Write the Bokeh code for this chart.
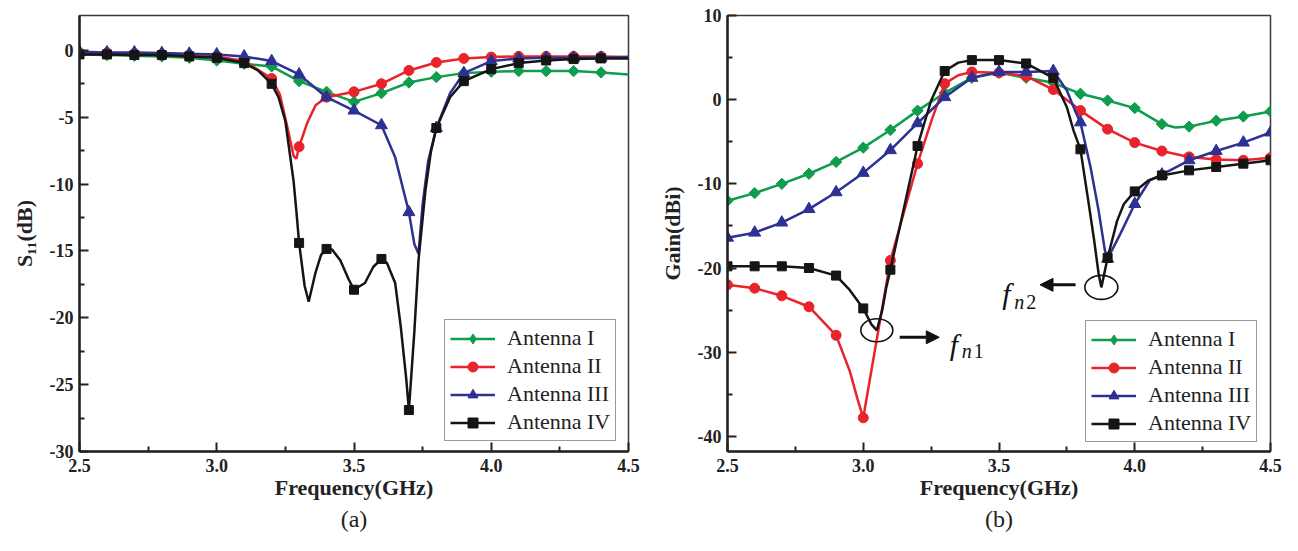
import numpy as np
from bokeh.plotting import figure
from bokeh.layouts import row
from bokeh.models import (Range1d, FixedTicker, PrintfTickFormatter, Legend, LegendItem,
                          Title, Label, Arrow, NormalHead)
from bokeh.embed import file_html
from bokeh.resources import INLINE

FONT = "Liberation Serif"
names = ["Antenna I", "Antenna II", "Antenna III", "Antenna IV"]
colors = ["#0E9C4D", "#E8232B", "#2E3192", "#151515"]

# ---------------- (a) S11 ----------------
freq_a = [2.5, 2.6, 2.7, 2.8, 2.9, 3.0, 3.1, 3.2, 3.3, 3.4,
          3.5, 3.6, 3.7, 3.8, 3.9, 4.0, 4.1, 4.2, 4.3, 4.4]
s11_I = [-0.3, -0.35, -0.4, -0.45, -0.55, -0.75, -1.0, -1.2, -2.3, -3.1,
         -3.85, -3.2, -2.4, -2.0, -1.7, -1.6, -1.55, -1.55, -1.55, -1.65]
s11_II = [-0.2, -0.2, -0.25, -0.3, -0.35, -0.45, -0.8, -2.1, -7.2, -3.5,
          -3.1, -2.5, -1.5, -0.9, -0.6, -0.5, -0.45, -0.45, -0.45, -0.45]
s11_III = [-0.1, -0.15, -0.15, -0.2, -0.25, -0.3, -0.45, -0.8, -1.8, -3.5,
           -4.5, -5.6, -12.1, -5.8, -1.7, -0.8, -0.6, -0.55, -0.55, -0.55]
s11_IV = [-0.3, -0.3, -0.35, -0.35, -0.45, -0.55, -0.95, -2.5, -14.4, -14.85,
          -17.9, -15.6, -26.9, -5.8, -2.3, -1.4, -0.95, -0.75, -0.65, -0.6]

# curve points (markers plus points read between them)
s11_I_cf = freq_a + [4.5]
s11_I_cv = s11_I + [-1.8]
s11_II_cf = [2.5, 2.6, 2.7, 2.8, 2.9, 3.0, 3.1, 3.2, 3.23, 3.26, 3.28, 3.29, 3.3, 3.33, 3.36,
             3.4, 3.5, 3.6, 3.7, 3.8, 3.9, 4.0, 4.1, 4.2, 4.3, 4.4, 4.5]
s11_II_cv = [-0.2, -0.2, -0.25, -0.3, -0.35, -0.45, -0.8, -2.1, -3.3, -6.0, -7.9, -8.1, -7.2, -5.4, -4.1,
             -3.5, -3.1, -2.5, -1.5, -0.9, -0.6, -0.5, -0.45, -0.45, -0.45, -0.45, -0.5]
s11_III_cf = [2.5, 2.6, 2.7, 2.8, 2.9, 3.0, 3.1, 3.2, 3.3, 3.4, 3.5, 3.6, 3.65, 3.7, 3.72, 3.735,
              3.75, 3.77, 3.8, 3.85, 3.9, 4.0, 4.1, 4.2, 4.3, 4.4, 4.5]
s11_III_cv = [-0.1, -0.15, -0.15, -0.2, -0.25, -0.3, -0.45, -0.8, -1.8, -3.5, -4.5, -5.6, -8.0, -12.1, -14.5, -15.2,
              -11.5, -8.3, -5.8, -3.2, -1.7, -0.8, -0.6, -0.55, -0.55, -0.55, -0.5]
s11_IV_cf = [2.5, 2.6, 2.7, 2.8, 2.9, 3.0, 3.1, 3.15, 3.2, 3.225, 3.25, 3.28, 3.29, 3.3, 3.32, 3.335,
             3.36, 3.38, 3.4, 3.42, 3.45, 3.48, 3.5, 3.54, 3.57, 3.6, 3.62, 3.65, 3.67, 3.69, 3.7,
             3.72, 3.735, 3.76, 3.78, 3.8, 3.85, 3.9, 4.0, 4.1, 4.2, 4.3, 4.4, 4.5]
s11_IV_cv = [-0.3, -0.3, -0.35, -0.35, -0.45, -0.55, -0.95, -1.5, -2.5, -3.5, -5.3, -9.8, -12.0, -14.4, -17.6, -18.8,
             -16.6, -15.3, -14.85, -14.9, -15.7, -17.1, -17.9, -17.4, -16.2, -15.6, -15.9, -17.4, -20.6, -24.5, -26.9,
             -21.0, -15.7, -10.5, -7.6, -5.8, -3.5, -2.3, -1.4, -0.95, -0.75, -0.65, -0.6, -0.6]

# ---------------- (b) Gain ----------------
freq_b = [2.5, 2.6, 2.7, 2.8, 2.9, 3.0, 3.1, 3.2, 3.3, 3.4, 3.5,
          3.6, 3.7, 3.8, 3.9, 4.0, 4.1, 4.2, 4.3, 4.4, 4.5]
gain_I = [-12.0, -11.1, -10.0, -8.8, -7.4, -5.7, -3.6, -1.3, 0.8, 2.6, 3.2,
          2.6, 2.0, 0.7, -0.1, -1.0, -2.9, -3.2, -2.5, -2.0, -1.4]
gain_II = [-22.0, -22.4, -23.3, -24.6, -28.0, -37.8, -19.1, -7.6, 1.9, 3.3, 3.2,
           2.8, 1.2, -1.3, -3.5, -5.1, -6.1, -6.8, -7.1, -7.2, -6.9]
gain_III = [-16.4, -15.8, -14.6, -13.0, -11.0, -8.7, -6.0, -2.8, 0.3, 2.6, 3.3,
            3.3, 3.4, -2.7, -18.9, -12.4, -8.9, -7.2, -6.1, -5.1, -3.9]
gain_IV = [-19.8, -19.8, -19.8, -20.0, -20.9, -24.8, -20.2, -5.5, 3.4, 4.7, 4.7,
           4.3, 2.6, -5.9, -18.8, -10.9, -9.0, -8.4, -8.0, -7.6, -7.2]

gain_I_cf = [2.5, 2.6, 2.7, 2.8, 2.9, 3.0, 3.1, 3.2, 3.3, 3.4, 3.5, 3.6, 3.7, 3.8, 3.9, 4.0, 4.1, 4.15,
             4.2, 4.3, 4.4, 4.5]
gain_I_cv = [-12.0, -11.1, -10.0, -8.8, -7.4, -5.7, -3.6, -1.3, 0.8, 2.6, 3.2, 2.6, 2.0, 0.7, -0.1, -1.0, -2.9, -3.3,
             -3.2, -2.5, -2.0, -1.4]
gain_II_cf = [2.5, 2.6, 2.7, 2.8, 2.9, 2.95, 2.98, 3.0, 3.1, 3.2, 3.25, 3.3, 3.35, 3.4, 3.5, 3.6, 3.7,
              3.8, 3.9, 4.0, 4.1, 4.2, 4.3, 4.4, 4.5]
gain_II_cv = [-22.0, -22.4, -23.3, -24.6, -28.0, -32.2, -35.7, -37.8, -19.1, -7.6, -2.6, 1.9, 2.9, 3.3, 3.2, 2.8, 1.2,
              -1.3, -3.5, -5.1, -6.1, -6.8, -7.1, -7.2, -6.9]
gain_III_cf = [2.5, 2.6, 2.7, 2.8, 2.9, 3.0, 3.1, 3.2, 3.3, 3.4, 3.5, 3.6, 3.7, 3.75, 3.78, 3.8, 3.837,
               3.867, 3.89, 3.9, 3.946, 4.0, 4.055, 4.1, 4.2, 4.3, 4.4, 4.5]
gain_III_cv = [-16.4, -15.8, -14.6, -13.0, -11.0, -8.7, -6.0, -2.8, 0.3, 2.6, 3.3, 3.3, 3.4, 1.1, -1.3, -2.7, -8.0,
               -13.2, -17.9, -18.9, -16.0, -12.4, -9.6, -8.9, -7.2, -6.1, -5.1, -3.9]
gain_IV_cf = [2.5, 2.6, 2.7, 2.8, 2.9, 2.95, 3.0, 3.03, 3.05, 3.07, 3.085, 3.1, 3.2, 3.25, 3.3, 3.35,
              3.4, 3.5, 3.6, 3.7, 3.75, 3.775, 3.8, 3.825, 3.85, 3.867, 3.877, 3.9, 3.935, 3.96, 4.0,
              4.05, 4.1, 4.2, 4.3, 4.4, 4.5]
gain_IV_cv = [-19.8, -19.8, -19.8, -20.0, -20.9, -22.6, -24.8, -26.7, -27.4, -25.0, -22.3, -20.2, -5.5, -0.1, 3.4, 4.4,
              4.7, 4.7, 4.3, 2.6, -0.9, -3.7, -5.9, -11.2, -16.6, -20.7, -22.3, -18.8, -14.4, -12.4, -10.9,
              -9.6, -9.0, -8.4, -8.0, -7.6, -7.2]

markers = [dict(marker="square", angle=np.pi / 4, size=8),
           dict(marker="circle", size=10),
           dict(marker="triangle", size=12),
           dict(marker="square", size=9)]
legend_markers = ["diamond", "circle", "triangle", "square"]


def style(p, yticks, yminor, ylabel):
    p.xgrid.visible = False
    p.ygrid.visible = False
    p.outline_line_color = "#3a3a3a"
    p.outline_line_width = 1.5
    p.background_fill_color = "white"
    p.border_fill_color = "white"
    p.xaxis.ticker = FixedTicker(ticks=[2.5, 3.0, 3.5, 4.0, 4.5], minor_ticks=[2.75, 3.25, 3.75, 4.25])
    p.xaxis.formatter = PrintfTickFormatter(format="%.1f")
    p.yaxis.ticker = FixedTicker(ticks=yticks, minor_ticks=yminor)
    p.yaxis.formatter = PrintfTickFormatter(format="%d")
    for ax in (p.xaxis[0], p.yaxis[0]):
        ax.axis_line_width = 2.5
        ax.axis_line_color = "#222222"
        ax.major_tick_in = 9
        ax.major_tick_out = 0
        ax.minor_tick_in = 5
        ax.minor_tick_out = 0
        ax.major_tick_line_width = 2
        ax.minor_tick_line_width = 2
        ax.major_tick_line_color = "#222222"
        ax.minor_tick_line_color = "#222222"
        ax.major_label_text_font = FONT
        ax.major_label_text_font_style = "bold"
        ax.major_label_text_font_size = "18px"
        ax.major_label_text_color = "#222222"
        ax.axis_label_text_font = FONT
        ax.axis_label_text_font_style = "bold"
        ax.axis_label_text_font_size = "22px"
        ax.axis_label_text_color = "#222222"
    p.xaxis.major_label_standoff = 7
    p.yaxis.major_label_standoff = 6
    p.xaxis.axis_label = "Frequency(GHz)"
    p.xaxis.axis_label_standoff = 0
    p.yaxis.axis_label = ylabel
    p.yaxis.axis_label_standoff = 10


def draw(p, series, marker_x, legend_loc):
    items = []
    for i, (cf, cv, mv) in enumerate(series):
        ln = p.line(cf, cv, line_color=colors[i], line_width=2.5)
        p.scatter(marker_x, mv, fill_color=colors[i], line_color=colors[i], **markers[i])
        # renderer with a single NaN point, used only for the legend swatch
        # (legend swatches ignore the marker angle, so a true diamond is used there)
        lg = p.scatter(x=[float("nan")], y=[float("nan")], marker=legend_markers[i], size=10,
                       fill_color=colors[i], line_color=colors[i])
        items.append(LegendItem(label=names[i], renderers=[ln, lg]))
    leg = Legend(items=items, location=legend_loc, margin=0, padding=5, spacing=2,
                 label_height=25, glyph_height=25, glyph_width=45, label_standoff=12,
                 label_text_font=FONT, label_text_font_size="22px", label_text_color="#222222",
                 border_line_color="#333333", border_line_width=1,
                 background_fill_color="white", background_fill_alpha=1.0)
    p.add_layout(leg)


# ---- panel (a)
p1 = figure(width=642, height=535, x_range=Range1d(2.5, 4.5), y_range=Range1d(-30, 2.61),
            output_backend="svg", toolbar_location=None,
            min_border_left=79, min_border_right=14, min_border_top=14, min_border_bottom=84)
style(p1, [-30, -25, -20, -15, -10, -5, 0], [-27.5, -22.5, -17.5, -12.5, -7.5, -2.5], "S\u2081\u2081(dB)")
draw(p1, [(s11_I_cf, s11_I_cv, s11_I), (s11_II_cf, s11_II_cv, s11_II),
          (s11_III_cf, s11_III_cv, s11_III), (s11_IV_cf, s11_IV_cv, s11_IV)], freq_a, (365, 10))
p1.add_layout(Title(text="(a)", align="center", text_font=FONT, text_font_size="24px",
                    text_font_style="normal", text_color="#222222", standoff=2), "below")

# ---- panel (b)
p2 = figure(width=640, height=535, x_range=Range1d(2.5, 4.5), y_range=Range1d(-41.8, 10),
            output_backend="svg", toolbar_location=None,
            min_border_left=85, min_border_right=12, min_border_top=15, min_border_bottom=84)
style(p2, [-40, -30, -20, -10, 0, 10], [-35, -25, -15, -5, 5], "Gain(dBi)")
draw(p2, [(gain_I_cf, gain_I_cv, gain_I), (gain_II_cf, gain_II_cv, gain_II),
          (gain_III_cf, gain_III_cv, gain_III), (gain_IV_cf, gain_IV_cv, gain_IV)], freq_b, (358, 9))
p2.add_layout(Title(text="(b)", align="center", text_font=FONT, text_font_size="24px",
                    text_font_style="normal", text_color="#222222", standoff=2), "below")

# notch annotations derived from Antenna IV gain curve
gf = np.array(gain_IV_cf)
gv = np.array(gain_IV_cv)
lo = gf < 3.5
i1 = np.argmin(np.where(lo, gv, np.inf))
i2 = np.argmin(np.where(~lo, gv, np.inf))
fn1x, fn1y = float(gf[i1]), float(gv[i1])
fn2x, fn2y = float(gf[i2]), float(gv[i2])

p2.ellipse(x=[fn1x, fn2x], y=[fn1y, fn2y], width=[32, 33], height=[23, 24],
           width_units="screen", height_units="screen",
           fill_color=None, line_color="#111111", line_width=1.6)

p2.add_layout(Arrow(end=NormalHead(size=13, fill_color="#111111", line_color="#111111"),
                    x_start=fn1x + 0.084, y_start=fn1y - 0.83, x_end=fn1x + 0.23, y_end=fn1y - 0.83,
                    line_color="#111111", line_width=3))
p2.add_layout(Arrow(end=NormalHead(size=13, fill_color="#111111", line_color="#111111"),
                    x_start=fn2x - 0.095, y_start=fn2y + 0.3, x_end=fn2x - 0.226, y_end=fn2y + 0.3,
                    line_color="#111111", line_width=3))


def fn_label(x, y, dx, dy, sub_dy, digit):
    kw = dict(x=x, y=y, text_font=FONT, text_color="#111111", text_baseline="alphabetic", text_align="left")
    p2.add_layout(Label(text="f", x_offset=dx, y_offset=-dy, text_font_size="30px",
                        text_font_style="italic", **kw))
    p2.add_layout(Label(text="n", x_offset=dx + 12, y_offset=-sub_dy, text_font_size="20px",
                        text_font_style="italic", **kw))
    p2.add_layout(Label(text=digit, x_offset=dx + 24, y_offset=-sub_dy, text_font_size="20px",
                        text_font_style="normal", **kw))


fn_label(fn1x, fn1y, 73, 14, 21, "1")
fn_label(fn2x, fn2y, -99, 6, 15, "2")

layout = row(p1, p2)
open("out.html", "w").write(file_html(layout, INLINE))
